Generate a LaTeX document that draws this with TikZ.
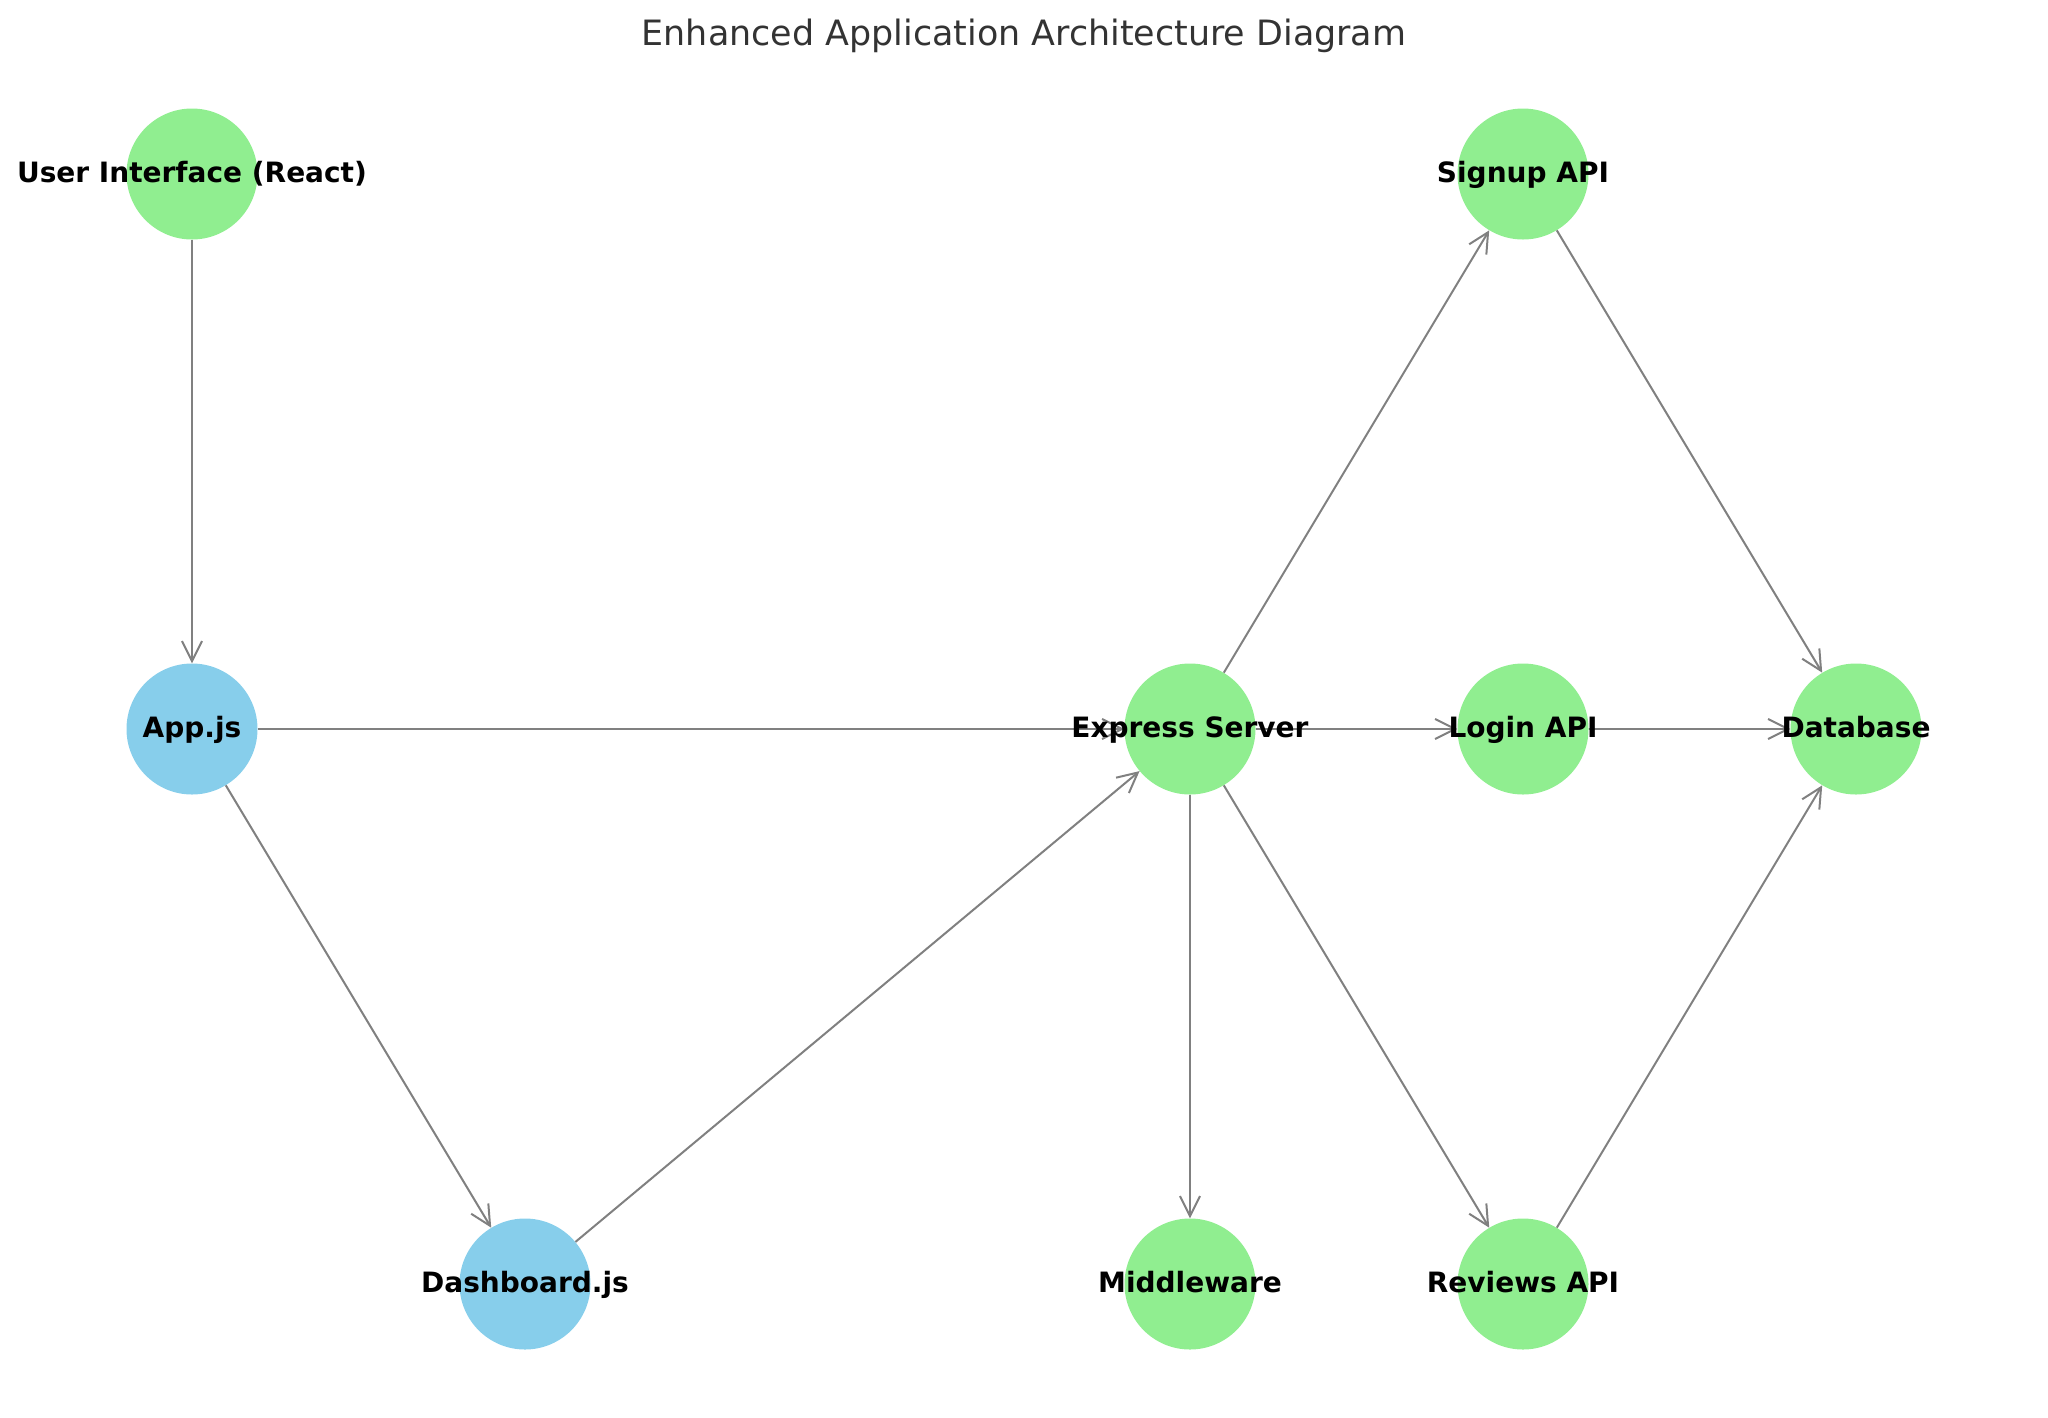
\documentclass[tikz,border=0pt]{standalone}
\usepackage{fontspec}
\setmainfont{DejaVu Sans}
\usetikzlibrary{arrows.meta}
\definecolor{lgreen}{HTML}{90EE90}
\definecolor{sblue}{HTML}{87CEEB}
\definecolor{edgegray}{HTML}{808080}
\definecolor{titlegray}{HTML}{333333}
\tikzset{
  vtx/.style={circle, draw=none, inner sep=0pt, minimum size=131pt},
  gnode/.style={vtx, fill=lgreen},
  bnode/.style={vtx, fill=sblue},
  lbl/.style={inner sep=0pt, anchor=base, font=\fontsize{28}{33}\selectfont\bfseries, text=black},
  edge/.style={draw=edgegray, line width=2pt, -{Straight Barb[length=20pt, width=20pt, line width=2pt]}},
}
\begin{document}
\begin{tikzpicture}[x=1pt, y=-1pt]
\useasboundingbox (0,0) rectangle (2048,1417);
\node[anchor=base, inner sep=0pt, text=titlegray, font=\fontsize{34.9}{42}\selectfont] (title) at (1024,45) {Enhanced Application Architecture Diagram};
% nodes
\node[gnode] (ui) at (192,174) {};
\node[bnode] (app) at (192,729) {};
\node[bnode] (dash) at (525,1284) {};
\node[gnode] (exp) at (1190,729) {};
\node[gnode] (mid) at (1190,1284) {};
\node[gnode] (sign) at (1523,174) {};
\node[gnode] (login) at (1523,729) {};
\node[gnode] (rev) at (1523,1284) {};
\node[gnode] (db) at (1856,729) {};
% edges
\draw[edge] (ui) -- (app);
\draw[edge] (app) -- (exp);
\draw[edge] (app) -- (dash);
\draw[edge] (dash) -- (exp);
\draw[edge] (exp) -- (sign);
\draw[edge] (exp) -- (login);
\draw[edge] (exp) -- (mid);
\draw[edge] (exp) -- (rev);
\draw[edge] (sign) -- (db);
\draw[edge] (login) -- (db);
\draw[edge] (rev) -- (db);
% labels
\node[lbl] (ui-t) at ([yshift=-8pt]ui.center) {User Interface (React)};
\node[lbl] (app-t) at ([yshift=-8pt]app.center) {App.js};
\node[lbl] (dash-t) at ([yshift=-8pt]dash.center) {Dashboard.js};
\node[lbl] (exp-t) at ([yshift=-8pt]exp.center) {Express Server};
\node[lbl] (mid-t) at ([yshift=-8pt]mid.center) {Middleware};
\node[lbl] (sign-t) at ([yshift=-8pt]sign.center) {Signup API};
\node[lbl] (login-t) at ([yshift=-8pt]login.center) {Login API};
\node[lbl] (rev-t) at ([yshift=-8pt]rev.center) {Reviews API};
\node[lbl] (db-t) at ([yshift=-8pt]db.center) {Database};
\end{tikzpicture}
\end{document}
